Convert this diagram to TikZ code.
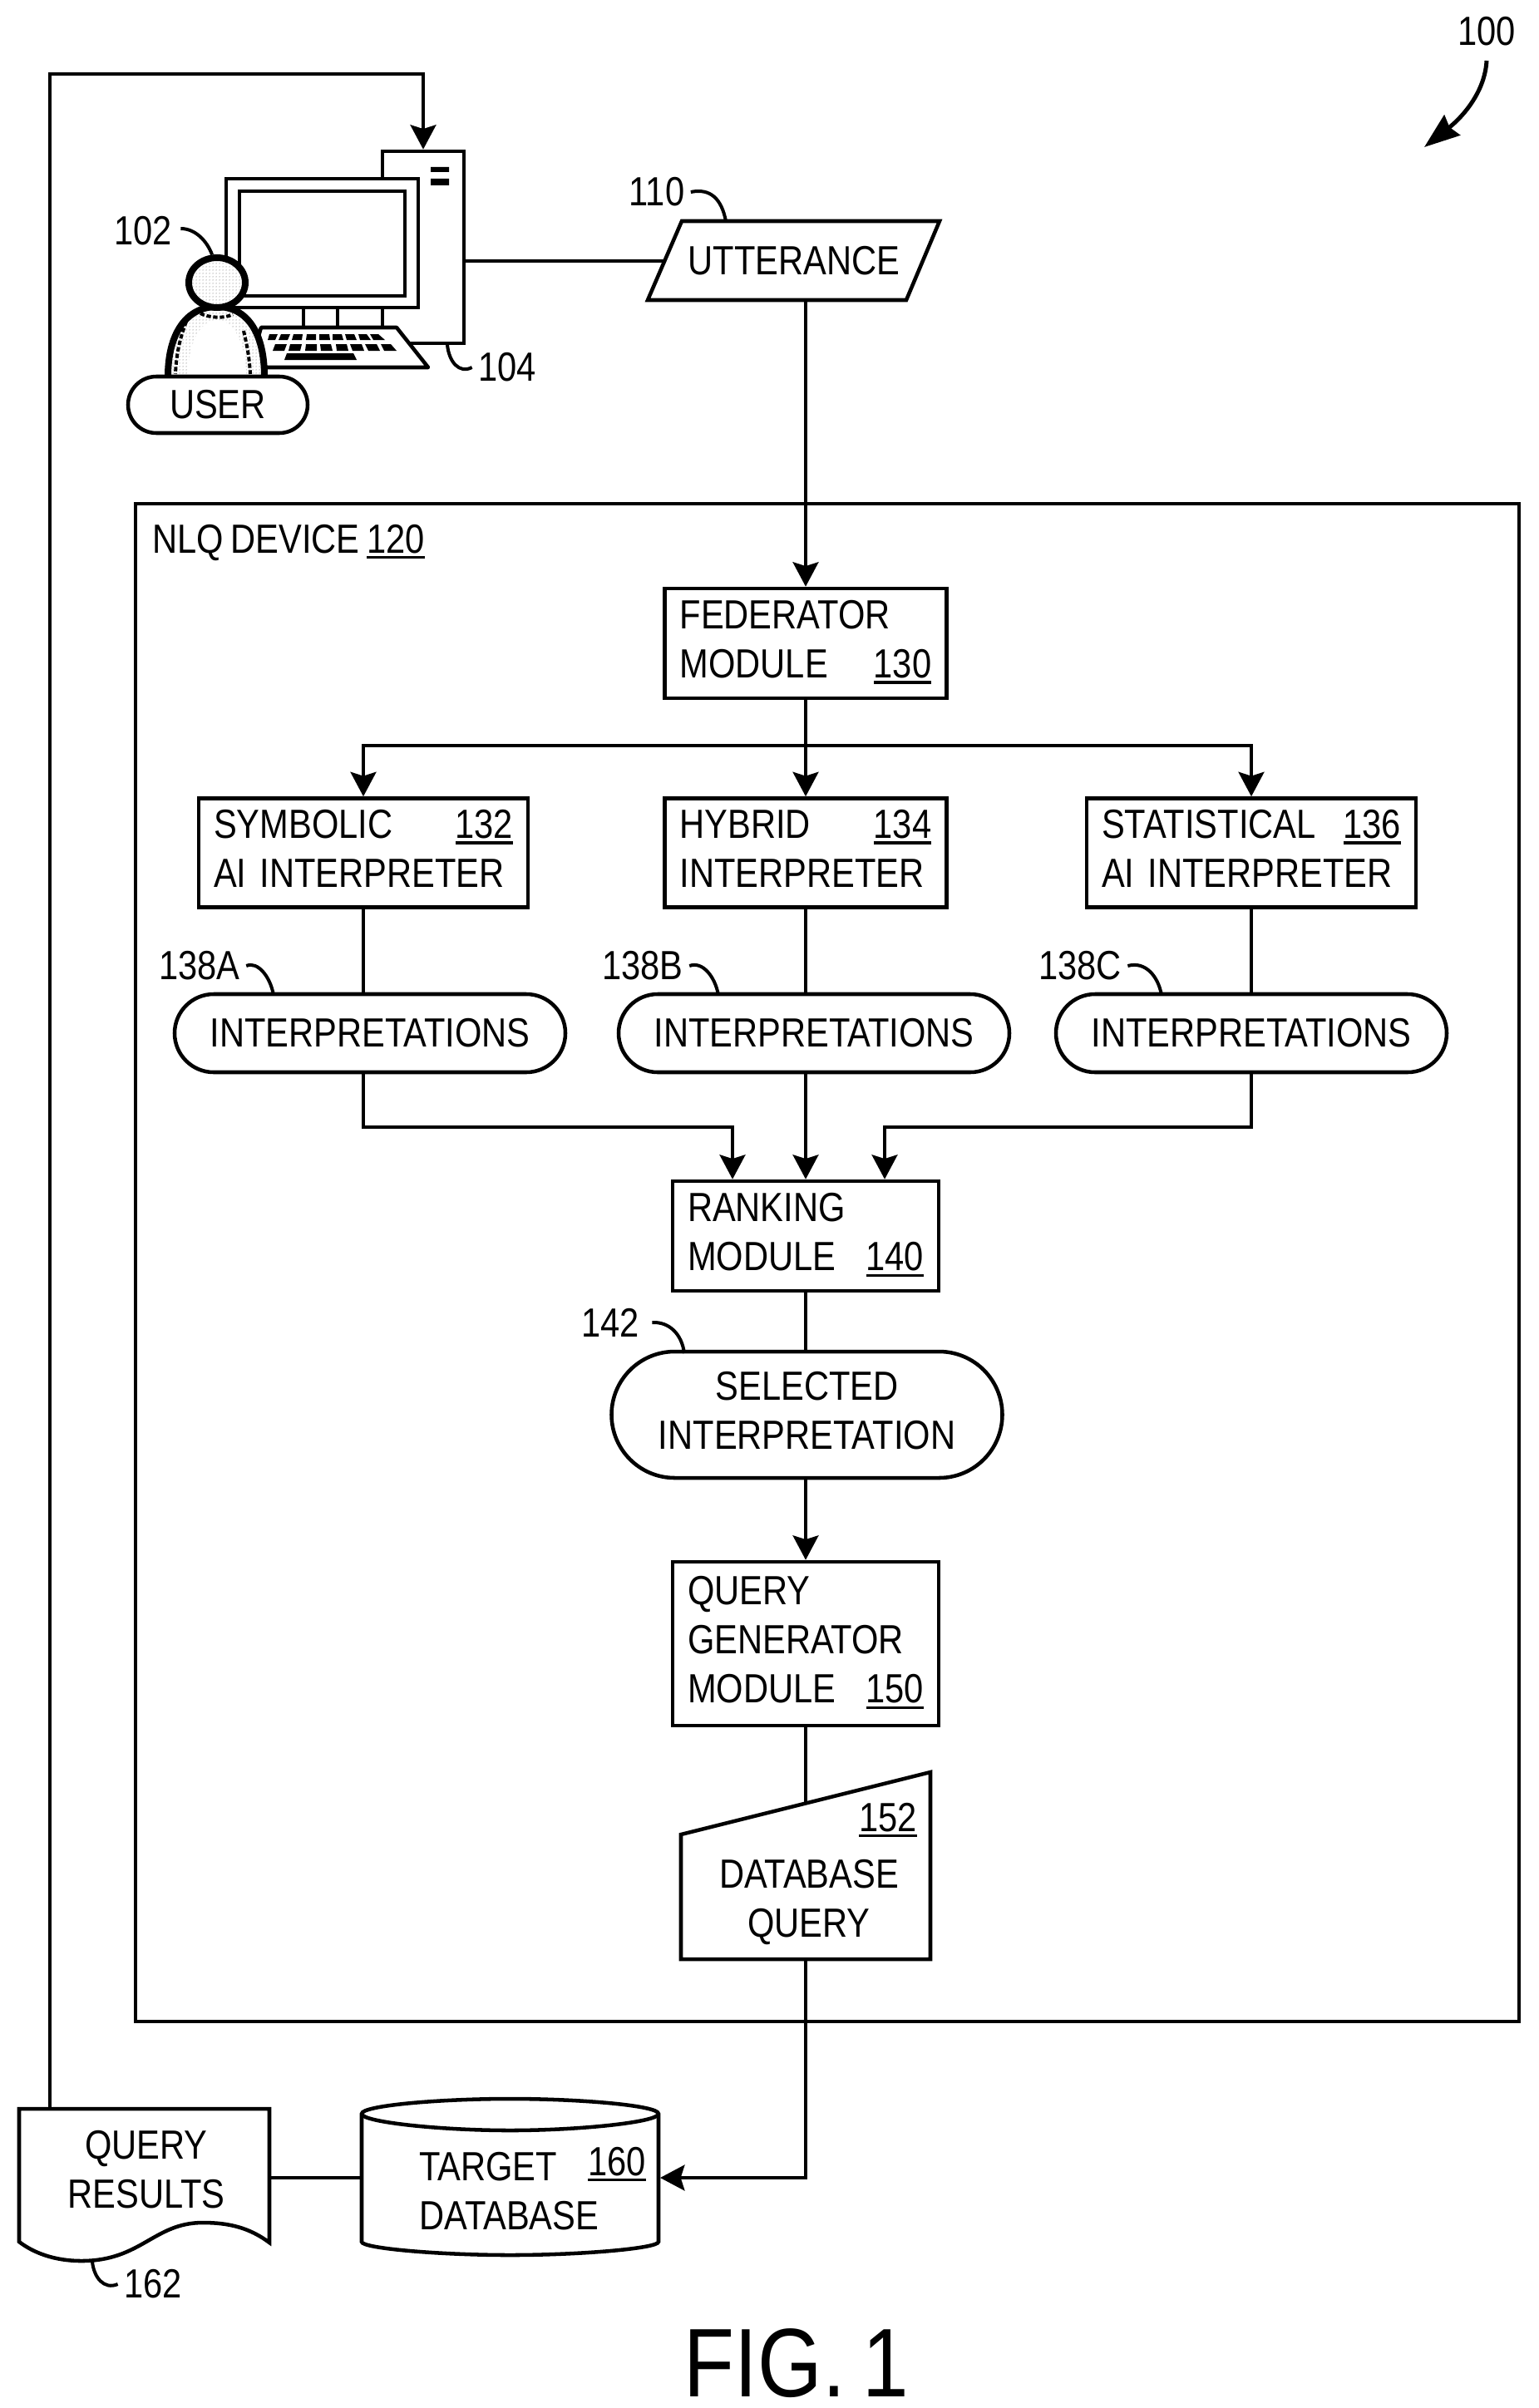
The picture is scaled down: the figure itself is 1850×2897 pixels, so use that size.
\documentclass[tikz,border=0pt]{standalone}
\usepackage{fontspec}
\setmainfont[FakeStretch=0.85,WordSpace=0.75]{Liberation Sans}
\usetikzlibrary{arrows.meta,shapes.geometric,shapes.misc,patterns.meta}

\newcommand{\refnum}[1]{\leavevmode\vtop{\hbox{#1}\kern2.8pt\hrule height 2.4pt}}

\tikzset{every picture/.style={line width=3.4pt}}
\tikzset{
  txt/.style={font=\fontsize{36.75}{44.25}\selectfont,inner sep=0pt},
  boxed/.style={txt,draw,rectangle,align=left,inner xsep=13.5pt,inner ysep=0pt,text width=#1,execute at end node={\rule[-8pt]{0pt}{8pt}}},
  pill/.style={txt,draw,fill=white,rounded rectangle,align=center},
  lbl/.style={txt,inner sep=4pt},
  line/.style={line width=3.4pt},
  arr/.style={line,-{Stealth[length=22pt,width=23pt,inset=3.5pt]}},
  leader/.style={line width=3pt},
  person/.style={line width=6pt,pattern={Dots[radius=0.35pt,distance=3pt]}},
  wrk/.style={draw,fill=white,rectangle,line width=3.4pt,inner sep=0pt}
}

\begin{document}
\begin{tikzpicture}[x=0.75pt,y=0.75pt,yscale=-1,xscale=1]
        \useasboundingbox (0,0) rectangle (1850,2897);
        %Device frame
        \node (nlq) [draw,rectangle,minimum width=1248pt,minimum height=1369.5pt,inner sep=0pt] at (995,1519) {};
        % Text Node
        \node (nlqtext) [txt,anchor=base west] at (181,665) {NLQ DEVICE \refnum{120}};

        %Workstation
        \node (tower) [wrk,minimum width=73.5pt,minimum height=173.25pt] at (509,297.5) {};
        \fill (518,201) rectangle (540,207) (518,215) rectangle (540,223);
        \draw (365,370) -- (365,394) (406,370) -- (406,394);
        \node (monitor) [wrk,minimum width=173.25pt,minimum height=116.25pt] at (387.5,292.5) {};
        \node (screen) [wrk,minimum width=149.25pt,minimum height=94.5pt] at (387.5,293) {};
        \draw [fill=white,line join=round] (314,394) -- (477,394) -- (515,442) -- (300,442) -- cycle;
        \fill (324,402) -- (334,402) -- (331,409) -- (322,409) -- cycle (338,402) -- (349,402) -- (346,409) -- (335,409) -- cycle
              (353,402) -- (364,402) -- (363,409) -- (351,409) -- cycle (369,402) -- (380,402) -- (380,409) -- (368,409) -- cycle
              (384,402) -- (396,402) -- (397,409) -- (384,409) -- cycle (400,402) -- (411,402) -- (413,409) -- (400,409) -- cycle
              (415,402) -- (426,402) -- (429,409) -- (417,409) -- cycle (431,402) -- (441,402) -- (446,409) -- (433,409) -- cycle
              (445,402) -- (455,402) -- (463,409) -- (449,409) -- cycle;
        \fill (331,414) -- (345,414) -- (342,422) -- (328,422) -- cycle (349,414) -- (363,414) -- (361,422) -- (347,422) -- cycle
              (368,414) -- (381,414) -- (381,422) -- (367,422) -- cycle (385,414) -- (398,414) -- (400,422) -- (386,422) -- cycle
              (404,414) -- (417,414) -- (419,422) -- (405,422) -- cycle (421,414) -- (435,414) -- (438,422) -- (424,422) -- cycle
              (439,414) -- (453,414) -- (457,422) -- (443,422) -- cycle (458,414) -- (470,414) -- (477,422) -- (462,422) -- cycle;
        \fill (345,425) -- (425,425) -- (429,433) -- (342,433) -- cycle;

        %User figure
        \fill [white] (199,453) .. controls (199,400) and (225,367) .. (261,367) .. controls (297,367) and (321,400) .. (321,453) -- cycle;
        \draw [person] (202,453) .. controls (202,400) and (225,369) .. (261,369) .. controls (297,369) and (318,400) .. (318,453);
        \fill [white] (226,453) .. controls (226,415) and (240,385) .. (261,385) .. controls (282,385) and (296,415) .. (296,453) -- cycle;
        \draw [line width=3pt,dash pattern=on 4pt off 2pt] (224,387) .. controls (217,405) and (212,425) .. (211,450);
        \draw [line width=3pt,dash pattern=on 4pt off 2pt] (293,398) .. controls (297,415) and (300,430) .. (301,450);
        \node (head) [ellipse,draw,line width=6pt,fill=white,minimum width=51pt,minimum height=45pt,inner sep=0pt] at (261,340) {};
        \fill [pattern={Dots[radius=0.35pt,distance=3pt]}] (261,340) ellipse (30 and 27);
        \draw [line width=3pt,dash pattern=on 4pt off 2pt] (241,377) .. controls (250,382) and (270,384) .. (280,378);
        \node (user) [pill,minimum width=162pt,minimum height=51pt] at (262,487) {USER};

        %Utterance
        \coordinate (uttleft) at (799,314);
        \coordinate (uttbot) at (969,361);
        \draw [line,line join=miter] (820,266) -- (1130,266) -- (1090,361) -- (779,361) -- cycle;
        % Text Node
        \node (utt) [txt] at (955,314) {UTTERANCE};
        %Straight Lines
        \draw [line] (tower.east |- uttleft) -- (uttleft);

        %Modules
        \node (fed) [boxed=227pt,minimum height=99pt] at (969,774) {FEDERATOR\\MODULE\hfill\refnum{130}};
        \node (sym) [boxed=270pt,minimum height=98.25pt] at (437,1026) {SYMBOLIC\hfill\refnum{132}\\AI INTERPRETER};
        \node (hyb) [boxed=227pt,minimum height=98.25pt] at (969,1026) {HYBRID\hfill\refnum{134}\\INTERPRETER};
        \node (sta) [boxed=270pt,minimum height=98.25pt] at (1505,1026) {STATISTICAL\hfill\refnum{136}\\AI INTERPRETER};
        \node (ran) [boxed=213pt,minimum height=99pt] at (969,1487) {RANKING\\MODULE\hfill\refnum{140}\hspace{7pt}};
        \node (gen) [boxed=213pt,minimum height=147.75pt] at (969,1977.5) {QUERY\\GENERATOR\\MODULE\hfill\refnum{150}\hspace{7pt}};

        %Interpretations
        \node (inta) [pill,minimum width=352.5pt,minimum height=70.5pt] at (445,1243) {INTERPRETATIONS};
        \node (intb) [pill,minimum width=352.5pt,minimum height=70.5pt] at (979,1243) {INTERPRETATIONS};
        \node (intc) [pill,minimum width=352.5pt,minimum height=70.5pt] at (1505,1243) {INTERPRETATIONS};
        \node (sel) [pill,text depth=8pt,minimum width=352.5pt,minimum height=114pt] at (970.5,1702) {SELECTED\\INTERPRETATION};

        %Database query
        \coordinate (dbqtop) at (969,2169);
        \coordinate (dbqbot) at (969,2357);
        \draw [line,line join=miter] (819,2207) -- (1119,2132) -- (1119,2357) -- (819,2357) -- cycle;
        % Text Node
        \node (dbqnum) [txt,anchor=base] at (1068,2203) {\refnum{152}};
        \node (dbq) [txt,align=center] at (973,2288) {DATABASE\\QUERY};

        %Target database
        \draw [line] (435,2543) .. controls (435,2533) and (530,2525) .. (613.5,2525) .. controls (697,2525) and (792,2533) .. (792,2543)
                -- (792,2697) .. controls (792,2705) and (697,2713) .. (613.5,2713) .. controls (530,2713) and (435,2705) .. (435,2697) -- cycle;
        \draw [line] (435,2543) .. controls (435,2553) and (530,2563) .. (613.5,2563) .. controls (697,2563) and (792,2553) .. (792,2543);
        \coordinate (dbleft) at (435,2620);
        \coordinate (dbright) at (794,2620);
        % Text Node
        \node (tgt) [txt,align=left,anchor=west] at (502,2633) {TARGET\hspace{28pt}\raisebox{5pt}{\refnum{160}}\\DATABASE};

        %Query results
        \draw [line] (23,2537) -- (324,2537) -- (324,2698) .. controls (300,2680) and (275,2674) .. (244,2674)
                .. controls (185,2674) and (170,2720) .. (98,2720) .. controls (65,2720) and (40,2710) .. (23,2697) -- cycle;
        \coordinate (resright) at (324,2620);
        \coordinate (restop) at (60,2537);
        % Text Node
        \node (res) [txt,align=center] at (176,2610) {QUERY\\RESULTS};

        %Straight Lines
        \coordinate (fbcorner) at (60,89);
        \coordinate (fork) at (969,897);
        \coordinate (mergea) at (881,1356);
        \coordinate (mergec) at (1064,1356);
        \draw [arr] (uttbot) -- (fed.north);
        \draw [line] (fed.south) -- (fork);
        \draw [arr] (fork) -- (hyb.north);
        \draw [arr] (fork) -| (sym.north);
        \draw [arr] (fork) -| (sta.north);
        \draw [line] (sym.south) -- (sym.south |- inta.north);
        \draw [line] (hyb.south) -- (hyb.south |- intb.north);
        \draw [line] (sta.south) -- (intc.north);
        \draw [arr] (sym.south |- inta.south) |- (mergea) -- (mergea |- ran.north);
        \draw [arr] (hyb.south |- intb.south) -- (ran.north);
        \draw [arr] (intc.south) |- (mergec) -- (mergec |- ran.north);
        \draw [line] (ran.south) -- (sel.north -| ran.south);
        \draw [arr] (sel.south -| gen.north) -- (gen.north);
        \draw [line] (gen.south) -- (dbqtop);
        \draw [arr] (dbqbot) |- (dbright);
        \draw [line] (resright) -- (dbleft);
        \draw [arr] (restop) -- (fbcorner) -| (tower.north);

        % Text Node
        \node (lab100) [lbl] at (1788,38) {100};
        \coordinate (tip100) at (1713,177);
        \draw [line width=3.75pt,-{Stealth[length=32pt,width=23pt,inset=3pt]}] (1788,73) .. controls (1786,110) and (1760,140) .. (tip100);
        \node (lab102) [lbl] at (172,278) {102};
        \draw [leader] (lab102.east) ++(3,-3) .. controls (235,275) and (249,290) .. (head.100);
        \node (lab104) [lbl] at (610,442) {104};
        \coordinate (end104) at (538,415);
        \draw [leader] (end104) .. controls (540,435) and (552,450) .. (lab104.west);
        \node (lab110) [lbl] at (790,231) {110};
        \coordinate (end110) at (873,266);
        \draw [leader] (lab110.east) .. controls (855,226) and (868,240) .. (end110);
        \node (lab138a) [lbl] at (240,1162) {138A};
        \coordinate (end138a) at (329,1197);
        \draw [leader] (lab138a.east) .. controls (310,1156) and (325,1175) .. (end138a);
        \node (lab138b) [lbl] at (773,1162) {138B};
        \coordinate (end138b) at (864,1197);
        \draw [leader] (lab138b.east) .. controls (845,1156) and (860,1175) .. (end138b);
        \node (lab138c) [lbl] at (1299,1162) {138C};
        \coordinate (end138c) at (1397,1197);
        \draw [leader] (lab138c.east) .. controls (1378,1156) and (1393,1175) .. (end138c);
        \node (lab142) [lbl] at (734,1591) {142};
        \coordinate (end142) at (823,1628);
        \draw [leader] (lab142.east) ++(8,0) .. controls (805,1590) and (820,1605) .. (end142);
        \node (lab162) [lbl] at (184,2748) {162};
        \coordinate (end162) at (111,2721);
        \draw [leader] (end162) .. controls (113,2740) and (125,2755) .. (lab162.west);

        % Text Node
        \node (fig) [font=\fontsize{88}{98}\selectfont,inner sep=0pt] at (958,2843) {FIG. 1};
\end{tikzpicture}
\end{document}
